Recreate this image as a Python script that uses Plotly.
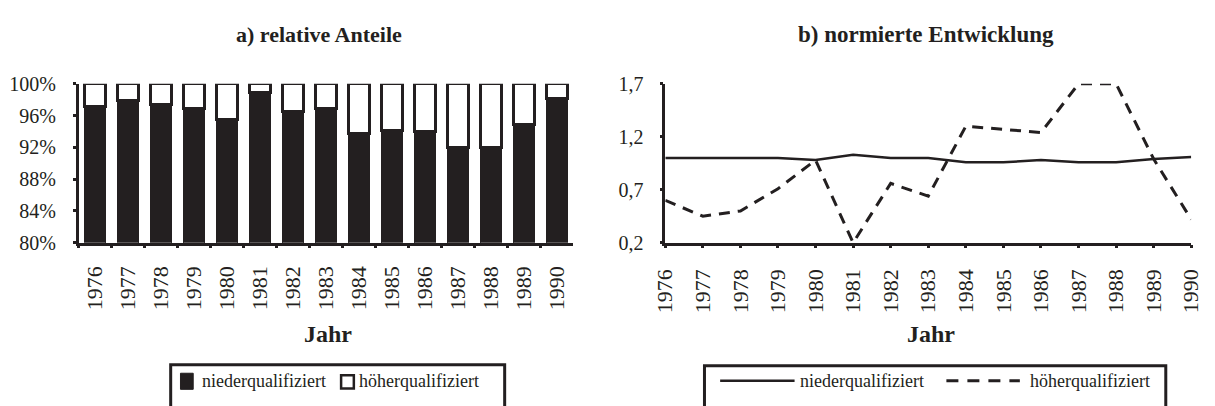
import plotly.graph_objects as go

# --- data -----------------------------------------------------------------
jahre = [1976, 1977, 1978, 1979, 1980, 1981, 1982, 1983,
         1984, 1985, 1986, 1987, 1988, 1989, 1990]
jahr_labels = [str(j) for j in jahre]

# a) relative shares in percent
anteil_nieder = [97.1, 97.9, 97.4, 96.9, 95.5, 98.9, 96.5, 96.9,
                 93.8, 94.1, 94.0, 92.0, 92.0, 94.9, 98.1]
anteil_hoeher = [2.9, 2.1, 2.6, 3.1, 4.5, 1.1, 3.5, 3.1,
                 6.2, 5.9, 6.0, 8.0, 8.0, 5.1, 1.9]

# b) normalised development
entw_nieder = [1.00, 1.00, 1.00, 1.00, 0.98, 1.03, 1.00, 1.00,
               0.96, 0.96, 0.98, 0.96, 0.96, 0.99, 1.01]
entw_hoeher = [0.60, 0.45, 0.50, 0.71, 0.98, 0.20, 0.76, 0.64,
               1.30, 1.27, 1.24, 1.70, 1.70, 0.99, 0.42]

pct_ticks = [80, 84, 88, 92, 96, 100]
pct_labels = [f"{v}%" for v in pct_ticks]
idx_ticks = [0.2, 0.7, 1.2, 1.7]

# --- styling ----------------------------------------------------------------
W, H = 1215, 406
INK = "#231f20"
SERIF = "Liberation Serif, Times New Roman, serif"


def px(x):
    return x / W


def py(y):
    return 1 - y / H


fig = go.Figure()

fig.add_trace(go.Bar(
    x=jahr_labels, y=anteil_nieder, name="niederqualifiziert",
    marker=dict(color=INK, line=dict(color=INK, width=1)),
    xaxis="x", yaxis="y", showlegend=False))
fig.add_trace(go.Bar(
    x=jahr_labels, y=anteil_hoeher, name="höherqualifiziert",
    marker=dict(color="white", line=dict(color=INK, width=3)),
    xaxis="x", yaxis="y", showlegend=False))

fig.add_trace(go.Scatter(
    x=jahre, y=entw_nieder, name="niederqualifiziert", mode="lines",
    line=dict(color=INK, width=2.5), cliponaxis=False,
    xaxis="x2", yaxis="y2", showlegend=False))
fig.add_trace(go.Scatter(
    x=jahre, y=entw_hoeher, name="höherqualifiziert", mode="lines",
    line=dict(color=INK, width=3, dash="11px,8px"), cliponaxis=False,
    xaxis="x2", yaxis="y2", showlegend=False))

axis_common = dict(
    showline=True, linecolor=INK, linewidth=2.5, mirror=False,
    ticks="outside", ticklen=3, tickwidth=3, tickcolor=INK,
    showgrid=False, zeroline=False, ticklabeloverflow="allow",
)
x_font = dict(family=SERIF, size=22, color=INK)
y_font = dict(family=SERIF, size=20, color=INK)

y_dom = [py(245), py(77)]

fig.update_layout(
    width=W, height=H,
    margin=dict(l=0, r=0, t=0, b=0),
    paper_bgcolor="white", plot_bgcolor="white",
    separators=",.",
    barmode="stack", bargap=0.36,
    showlegend=False,
    font=dict(family=SERIF, color=INK),
    xaxis=dict(axis_common, domain=[px(67), px(572)], type="category",
               tickson="boundaries", tickangle=-90, anchor="y",
               range=[-0.5, 14.5], tickfont=x_font, ticklabelstandoff=12),
    yaxis=dict(axis_common, domain=y_dom, range=[80, 100],
               tickvals=pct_ticks, ticktext=pct_labels, anchor="x",
               tickfont=y_font, ticklabelstandoff=13),
    xaxis2=dict(axis_common, domain=[px(666), px(1203)], range=[1976, 1990],
                tickvals=jahre, ticktext=jahr_labels, tickangle=-90,
                anchor="y2", tickfont=x_font, ticklabelstandoff=12),
    yaxis2=dict(axis_common, domain=y_dom, range=[0.2, 1.7],
                tickvals=idx_ticks, tickformat=".1f", anchor="x2",
                tickfont=y_font, ticklabelstandoff=12),
)

annotations = [
    dict(text="<b>a) relative Anteile</b>", x=px(312), y=py(25),
         font=dict(size=22)),
    dict(text="<b>b) normierte Entwicklung</b>", x=px(932), y=py(25),
         font=dict(size=23)),
    dict(text="<b>Jahr</b>", x=px(322), y=py(342), font=dict(size=24)),
    dict(text="<b>Jahr</b>", x=px(937), y=py(342), font=dict(size=24)),
    dict(text="niederqualifiziert", x=px(191), y=py(391), xanchor="left",
         font=dict(size=18)),
    dict(text="höherqualifiziert", x=px(351), y=py(391), xanchor="left",
         font=dict(size=18)),
    dict(text="niederqualifiziert", x=px(801), y=py(391), xanchor="left",
         font=dict(size=18)),
    dict(text="höherqualifiziert", x=px(1036), y=py(391), xanchor="left",
         font=dict(size=18)),
]
for a in annotations:
    a.update(xref="paper", yref="paper", showarrow=False)
    a.setdefault("xanchor", "center")
    a["yanchor"] = "middle"
    a["font"].update(family=SERIF, color=INK)
fig.update_layout(annotations=annotations)

shapes = [
    # legend frames (open at the bottom edge of the page)
    dict(type="rect", x0=px(161), x1=px(502), y0=py(430), y1=py(374),
         line=dict(color=INK, width=3)),
    dict(type="rect", x0=px(706), x1=px(1177), y0=py(430), y1=py(375),
         line=dict(color=INK, width=3)),
    # legend swatches, left panel
    dict(type="rect", x0=px(171), x1=px(184), y0=py(400), y1=py(383),
         fillcolor=INK, line=dict(color=INK, width=1)),
    dict(type="rect", x0=px(335), x1=px(348), y0=py(399), y1=py(385),
         fillcolor="white", line=dict(color=INK, width=2.5)),
    # legend line samples, right panel
    dict(type="line", x0=px(722), x1=px(798), y0=py(391), y1=py(391),
         line=dict(color=INK, width=2.5)),
    dict(type="line", x0=px(953), x1=px(1028), y0=py(391), y1=py(391),
         line=dict(color=INK, width=3, dash="12px,9px")),
]
for s in shapes:
    s.update(xref="paper", yref="paper", layer="above")
fig.update_layout(shapes=shapes)

fig.write_html("out.html")
